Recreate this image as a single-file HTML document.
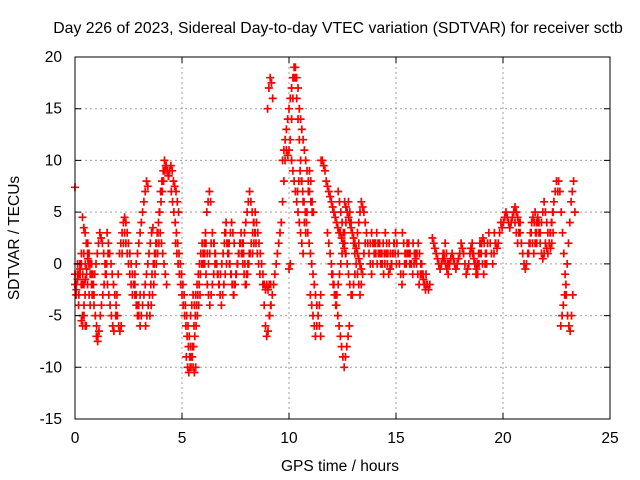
<!DOCTYPE html>
<html><head><meta charset="utf-8"><style>
body{margin:0;background:#fff;}
svg{display:block;font-family:"Liberation Sans",sans-serif;}
</style></head><body>
<svg id="chart" width="640" height="480" viewBox="0 0 640 480">
<rect width="640" height="480" fill="#fff"/>
<text x="338" y="33" font-size="15.8" text-anchor="middle">Day 226 of 2023, Sidereal Day-to-day VTEC variation (SDTVAR) for receiver sctb</text>
<g id="grid"></g>
<g id="marks"></g>
<rect x="75" y="57" width="535" height="362" fill="none" stroke="#000" stroke-width="1"/>
<g id="axes"></g>
<text x="340" y="471" font-size="15.5" text-anchor="middle">GPS time / hours</text>
<text x="19" y="238" font-size="15.5" text-anchor="middle" transform="rotate(-90 19 238)">SDTVAR / TECUs</text>
</svg>
<script>
const xTicks=[0,5,10,15,20,25];
const yTicks=[-15,-10,-5,0,5,10,15,20];
const trackStart=[0.0,0.05,0.0,0.35,0.3,0.8,1.0,1.5,1.9,2.2,2.8,3.3,3.7,3.5,4.5,4.7,5.2,5.4,6.0,6.5,7.0,7.8,8.0,8.3,9.0,9.1,9.7,10.0,10.4,11.0,11.5,11.8,12.0,12.3,12.6,13.2,13.5,14.0,14.5,15.3,15.8,16.7,17.2,18.5,19.6,20.5,21.2,21.5,22.2,22.6,22.7,0.0];
const trackValues=[
[-1,-2,0,-3,-1,1,-2,-4,0,-1,2,-3,-1,0,-2],
[-3,-1,-4,0,-2,-5,1,-3,-6,-2,0,-4,-2,-1,-3],
[-2,-2.5,-1.5,-1,-0.5,0,-1,-2,-1.5,-0.5,0.5,1,0,-1],
[4.5,3.5,3,2,1,0,-1,-2,-3,-4,-5,-6,-7],
[-5.5,-6,-5,-6],
[-3,-2,-1,0,1,2,3,2.5,2,1,0,-1,-2,-3,-4,-5,-6,-6.5],
[-7,-7.5,-6.5,-5,-4,-3,-2,-1,0,1],
[3,2,1,0,-1,-2,-3,-4,-5,-6,-6.5,-6],
[-5,-3,-1,1,2,3,4,4.5,4,3,2,1,0,-1,-2,-3,-4,-5,-4,-3],
[1,2,3,2,1,0,-1,-2,-3,-2,-1,0,1,2,3,4,5,6,7,8,7.5],
[-2,-3,-4,-5,-6,-5,-4,-3,-2,-1,0,1,2,3,3.5],
[-6,-5,-4,-3,-2,-1,0,1,2,3,4,5,6,7,8,9,9.5,9,8.5],
[0,1,2,3,5,7,8,9,10,9.5,9,8.5,9,9.5,9,8,7.5,7,6,5],
[-5,-4,-3,-2,-1,0,1,2,3,2,1,0,-1,-2],
[7,6,5,4,3,2,1,0,-1,-2,-3,-4,-5,-6,-7,-8,-9,-10,-10.5,-10],
[2,1,0,-1,-2,-3,-4,-5,-6,-7,-8,-9,-10,-9,-8,-7,-6,-5,-4,-3],
[-9,-10,-10.5,-10,-9,-8,-6,-5,-4,-3,-2,-1,0,1,2,3,5,6,7,6],
[-5,-4,-3,-4,-3,-2,-1,0,1,2,1,0,-1,-2,-3,-4,-3,-2,-1,0],
[0,1,2,1,0,1,2,3,2,1,0,-1,-2,-3,-4,-3,-2,-1,0,1,2,3,4,3,2],
[2,1,0,-1,-2,-1,0,1,2,3,2,1,0,-1,-2,-3,-2,-1,0,1,2,3,2,1,0],
[3,4,2,1,0,-1,-2,-3,-2,-1,0,1,2,1,0,-1,-2,-1,0,1],
[1,2,3,4,5,6,7,6,5,4,3,2,1,0,-1],
[-2,-1,0,1,2,3,4,5,4,3,2,1,0,-2,-4,-6,-7,-6.5,-5,-4],
[1,2,3,4,3,2,1,0,-1,-2,-2.5,-2,-2.5,-2,-2],
[15,17,18,17.5,16],
[-5,-4,-3,-2,-1,0,1,2,3,4,6,8,10,11,10.5,11,12,14,16,18,19,18,17,15,14,13,12,11,10,9,8,7,6,5],
[10,11,12,13,14,15,16,17,18,19,18,16,14,12,10,8,6,4,3,5,7,9,8,6,5],
[-0.5,0,10,9,8,7,6,5,4,3,2,1],
[7,8,9,8,7,6,5,4,3,2,1,0,-1,-2,-3,-4,-5,-6,-7],
[-3,-4,-5,-6,-7,-6,-5,-4,-3],
[10,10,9.5,9,8,7.5,7,6.5,6,5.5,5,4.5,4,3.5,3,3,2.5,2,1.5,1],
[3,2,1,0,-1,-2,-3,-4,-5,-6,-7,-8,-9,-10,-9,-8,-7,-6],
[-1,-2,-3,-4,-3,-2,-1,0,1,2,3,4,5,6,5,4,3,2,1,0,-1,-2,-3,-2],
[7,6,5,4,3,2,1,0,-1,-2,-3,-3,-2,-1,0,1,2],
[6,5.5,5,4.5,4,3.5,3,2.5,2,1.5,1,0.5,0,-0.5,-1],
[3,4,5,6,5.5,5,4,3,2,1,0,-1,0,1,2,3],
[1,2,3,2,1,2,3,2,1,2,3,2,1,0,1,2,1],
[2,1,0,1,2,1,0,-1,0,1,0,-1,-0.5,0,1,2,1,0],
[3,2,1,2,1,0,1,2,3,2,1,0,-1,-2,-1,0,1,2,1,0],
[3,2,1,0,1,2,1,0,-1,0,1,0,-1,-2,-1,0,-1,-2,-2.5,-2],
[2,1,0.5,1,2,1,0,-1,-1.5,-2,-1,-2,-2.5,-2],
[2.5,2,1.5,1,0.5,0,-0.5,0,0.5,1,2,1,0],
[1,0.5,0,-0.5,-1,0,0.5,1,0.5,0,-0.5,0,0.5,1,2,1.5,1,0,-1,-0.5,0,1,1.5,1,0.5,0,-0.5,-1,0,1,2,2.5,2,1,0],
[1.5,2,1,0,-1,0,1,2,1,0,-1,0,1,2,3,2,1,0,1,2],
[3,2,1.5,2,3,4,3.5,4,4.5,5,4.5,4,3.5,4,4.5,5,4,3,2,3,4],
[5,5.5,5,4.5,4,3,2,1,0,-0.5,0,1,2,3,4,4.5,4,3,2],
[1,2,3,2,1,2,3,4,3,2,1,0.5,1,2,1.5,1,2,3,4,5],
[5,4,4.5,4,3,4,5,6,5,4,3,2,1.5,2,3],
[3,4,5,6,7,8,7],
[8,7,5,3,1,-1,-3,-5,-6,-6.5,-5,-3],
[-6,-5,-4,-3,-2,0,2,4,6,7,8,5],
[7.4]
];
const timeStep=0.06;
const X0=75,X1=610,Y0=419,Y1=57,xMin=0,xMax=25,yMin=-15,yMax=20;
const sx=t=>X0+(t-xMin)/(xMax-xMin)*(X1-X0);
const sy=v=>Y0-(v-yMin)/(yMax-yMin)*(Y0-Y1);
const NS="http://www.w3.org/2000/svg";
const grid=document.getElementById('grid'),axes=document.getElementById('axes'),marks=document.getElementById('marks');
function mk(tag,attrs,parent){const e=document.createElementNS(NS,tag);for(const k in attrs)e.setAttribute(k,attrs[k]);parent.appendChild(e);return e;}
xTicks.forEach(t=>{
  const x=sx(t);
  if(t>xMin&&t<xMax){const g=mk('line',{x1:x,x2:x,y1:Y1,y2:Y0,stroke:'#a0a0a0','stroke-dasharray':'2,3'},grid);
  
  }
  const tk=mk('path',{d:`M${x},${Y0}v-6M${x},${Y1}v6`,stroke:'#000'},axes);
  
  
  const l=mk('text',{x:x,y:443,'font-size':15.5,'text-anchor':'middle'},axes);l.textContent=t;
  
  
});
yTicks.forEach(v=>{
  const y=sy(v);
  if(v>yMin&&v<yMax){const g=mk('line',{x1:X0,x2:X1,y1:y,y2:y,stroke:'#a0a0a0','stroke-dasharray':'2,3'},grid);
  
  }
  const tk=mk('path',{d:`M${X0},${y}h6M${X1},${y}h-6`,stroke:'#000'},axes);
  
  
  const l=mk('text',{x:62,y:y+5,'font-size':15.5,'text-anchor':'end'},axes);l.textContent=v;
  
  
});
let d='';
trackValues.forEach((vals,i)=>{
  vals.forEach((v,j)=>{
    const x=sx(trackStart[i]+j*timeStep),y=sy(v);
    d+=`M${(x-4).toFixed(1)},${y.toFixed(1)}h8M${x.toFixed(1)},${(y-4).toFixed(1)}v8`;
  });
});
const p=mk('path',{d:d,stroke:'#ff0000','stroke-width':1.7,fill:'none'},marks);


</script>
</body></html>
